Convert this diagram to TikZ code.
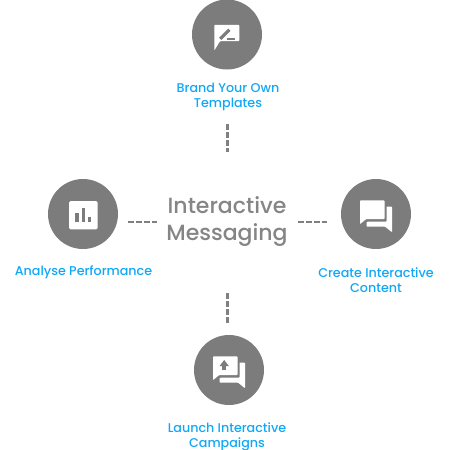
\documentclass[tikz,border=0pt]{standalone}
\usepackage{fontspec}
\setmainfont{Poppins Medium}
\definecolor{discgrey}{HTML}{7C7C7C}
\definecolor{labelblue}{HTML}{0FA7F7}
\definecolor{dashgrey}{HTML}{808080}
\definecolor{titlegrey}{HTML}{858585}
\tikzset{
  x=1pt,y=-1pt,
  discnode/.style={circle,fill=discgrey,draw=none,minimum size=70pt,inner sep=0pt},
  lab/.style={text=labelblue,font=\fontsize{12.7}{15}\selectfont,align=center,inner sep=0pt},
  title/.style={text=titlegrey,font=\fontsize{22}{27}\selectfont,align=center,inner sep=0pt},
  link/.style={draw=dashgrey,line width=2.4pt,dash pattern=on 5.5pt off 2.5pt},
  twobubbles/.pic={
    \fill[white,rounded corners=0.8pt] (-9.5,-7.5) -- (16,-7.5) -- (16,18.3) -- (9,12.6) -- (-9.5,12.6) -- cycle;
    \fill[discgrey,rounded corners=0.8pt] (-18,-15.5) -- (10.6,-15.5) -- (10.6,7.6) -- (-9,7.6) -- (-18,13) -- cycle;
    \fill[white,rounded corners=0.8pt] (-16,-13.6) -- (8.6,-13.6) -- (8.6,5) -- (-9.8,5) -- (-16,10.2) -- cycle;
  }
}
\begin{document}
\begin{tikzpicture}
\useasboundingbox (0,0) rectangle (450,450);
% discs
\node[discnode] (top) at (227,34.5) {};
\node[discnode] (left) at (83,214) {};
\node[discnode] (right) at (376,214) {};
\node[discnode] (bottom) at (229,370) {};
% top icon
\begin{scope}[shift={(top.center)}]
  \fill[white,rounded corners=0.8pt] (-12.7,-9.7) -- (12.3,-9.7) -- (12.3,6.7) -- (-7,6.7) -- (-12.7,16) -- cycle;
  \draw[discgrey,line width=3.2pt] (-6.8,4.3) -- (2.4,-4.7);
  \draw[discgrey,line width=2pt] (-0.5,4.3) -- (7.5,4.3);
\end{scope}
% left icon
\begin{scope}[shift={(left.center)}]
  \fill[white,rounded corners=1.5pt] (-14,-13) rectangle (14.7,15.3);
  \fill[discgrey] (-8,-0.7) rectangle (-4.3,8.3);
  \fill[discgrey] (-1.3,-6.3) rectangle (2,8.3);
  \fill[discgrey] (4.7,2.7) rectangle (8.3,8.3);
\end{scope}
% right and bottom icons
\pic at (right.center) {twobubbles};
\pic at (bottom.center) {twobubbles};
\begin{scope}[shift={(bottom.center)}]
  \fill[discgrey] (-9.6,-3.8) -- (0,-3.8) -- (-4.8,-10) -- cycle;
  \fill[discgrey] (-7,-4) rectangle (-2.6,0.3);
\end{scope}
% labels
\node[lab] (ltop) at (228,96.5) {Brand Your Own\\Templates};
\node[lab] (lleft) at (83.5,272.5) {Analyse Performance};
\node[lab] (lright) at (376,280) {Create Interactive\\Content};
\node[lab] (lbottom) at (227,436.5) {Launch Interactive\\Campaigns};
\node[title] (centre) at (227,222) {Interactive\\Messaging};
% dashed connectors
\coordinate (ta) at (227.5,124);
\coordinate (tb) at (227.5,152);
\coordinate (ba) at (227.5,293);
\coordinate (bb) at (227.5,323);
\coordinate (la) at (128,222);
\coordinate (lb) at (157,222);
\coordinate (ra) at (298,222);
\coordinate (rb) at (327,222);
\draw[link] (ta) -- (tb);
\draw[link] (ba) -- (bb);
\draw[link] (la) -- (lb);
\draw[link] (ra) -- (rb);
\end{tikzpicture}
\end{document}
